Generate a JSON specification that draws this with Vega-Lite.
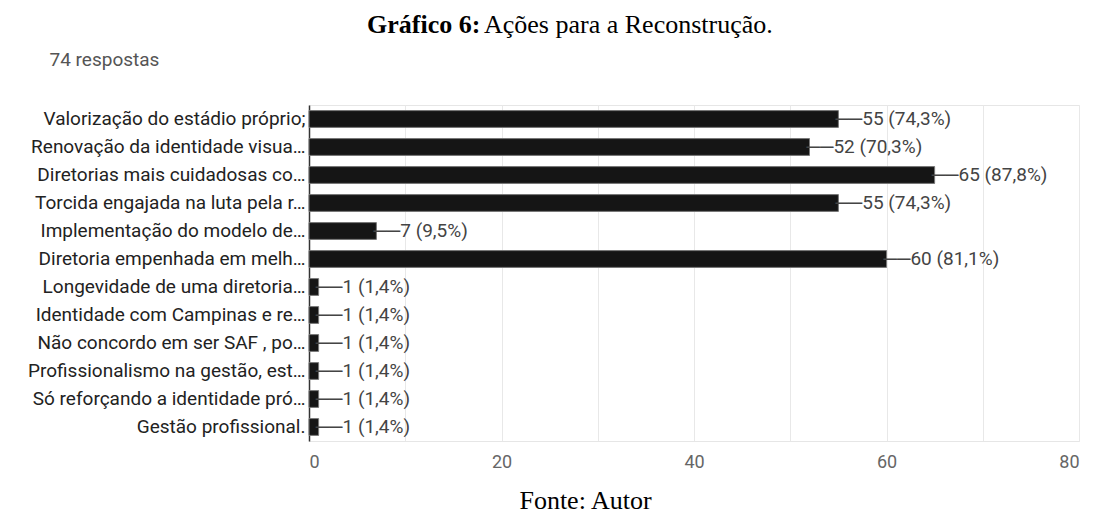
{
  "$schema": "https://vega.github.io/schema/vega-lite/v6.json",
  "width": 770,
  "height": 336,
  "autosize": {"type": "none"},
  "padding": {"left": 309, "top": 105, "right": 17, "bottom": 71},
  "background": "white",
  "title": {
    "text": "Gráfico 6:",
    "subtitle": "\u200b\u00a0\u00a0\u00a0\u00a0\u00a0\u00a0\u00a0\u00a0\u00a0\u00a0\u00a0\u00a0\u00a0\u00a0\u00a0\u00a0\u00a0\u00a0Ações para a Reconstrução.",
    "anchor": "start",
    "frame": "group",
    "dx": 58,
    "offset": 12,
    "font": "Liberation Serif",
    "fontSize": 26,
    "fontWeight": "bold",
    "color": "black",
    "subtitleFont": "Liberation Serif",
    "subtitleFontSize": 26,
    "subtitleFontWeight": "normal",
    "subtitleColor": "black",
    "subtitlePadding": -26
  },
  "data": {
    "values": [
      {"acao": "Valorização do estádio próprio;", "ordem": 1, "respostas": 55, "rotulo": "──55 (74,3%)"},
      {"acao": "Renovação da identidade visua…", "ordem": 2, "respostas": 52, "rotulo": "──52 (70,3%)"},
      {"acao": "Diretorias mais cuidadosas co…", "ordem": 3, "respostas": 65, "rotulo": "──65 (87,8%)"},
      {"acao": "Torcida engajada na luta pela r…", "ordem": 4, "respostas": 55, "rotulo": "──55 (74,3%)"},
      {"acao": "Implementação do modelo de…", "ordem": 5, "respostas": 7, "rotulo": "──7 (9,5%)"},
      {"acao": "Diretoria empenhada em melh…", "ordem": 6, "respostas": 60, "rotulo": "──60 (81,1%)"},
      {"acao": "Longevidade de uma diretoria…", "ordem": 7, "respostas": 1, "rotulo": "──1 (1,4%)"},
      {"acao": "Identidade com Campinas e re…", "ordem": 8, "respostas": 1, "rotulo": "──1 (1,4%)"},
      {"acao": "Não concordo em ser SAF , po…", "ordem": 9, "respostas": 1, "rotulo": "──1 (1,4%)"},
      {"acao": "Profissionalismo na gestão, est…", "ordem": 10, "respostas": 1, "rotulo": "──1 (1,4%)"},
      {"acao": "Só reforçando a identidade pró…", "ordem": 11, "respostas": 1, "rotulo": "──1 (1,4%)"},
      {"acao": "Gestão profissional.", "ordem": 12, "respostas": 1, "rotulo": "──1 (1,4%)"}
    ]
  },
  "encoding": {
    "y": {
      "field": "acao",
      "type": "nominal",
      "sort": {"field": "ordem", "order": "ascending"},
      "scale": {"paddingInner": 0.4, "paddingOuter": 0.2},
      "axis": {
        "title": "74 respostas",
        "titleAngle": 0,
        "titleAlign": "left",
        "titleBaseline": "middle",
        "titleX": -260,
        "titleY": -46,
        "titleFont": "Roboto",
        "titleFontSize": 19,
        "titleFontWeight": "normal",
        "titleColor": "#555555",
        "labelFont": "Roboto",
        "labelFontSize": 19,
        "labelColor": "#222222",
        "labelPadding": 4,
        "labelLimit": 320,
        "ticks": false,
        "domainColor": "#333333",
        "domainWidth": 1.5,
        "grid": false
      }
    },
    "x": {
      "field": "respostas",
      "type": "quantitative",
      "scale": {"domain": [0, 80], "nice": false},
      "axis": {
        "values": [0, 10, 20, 30, 40, 50, 60, 70, 80],
        "labelExpr": "datum.value % 20 === 0 ? datum.label : ''",
        "title": "Fonte: Autor",
        "titleFont": "Liberation Serif",
        "titleFontSize": 26,
        "titleFontWeight": "normal",
        "titleColor": "black",
        "titleX": 276,
        "titleY": 59,
        "titleAlign": "center",
        "titleBaseline": "middle",
        "labelFont": "Roboto",
        "labelFontSize": 18,
        "labelColor": "#666666",
        "labelPadding": 12,
        "ticks": false,
        "domainColor": "#e6e6e6",
        "gridColor": "#e8e8e8",
        "grid": true
      }
    }
  },
  "layer": [
    {
      "mark": {"type": "bar", "color": "#151515", "stroke": "#777777", "strokeWidth": 1}
    },
    {
      "mark": {"type": "text", "align": "left", "baseline": "middle", "dx": -3, "font": "Roboto", "fontSize": 19, "color": "#444444"},
      "encoding": {"text": {"field": "rotulo"}}
    }
  ],
  "config": {
    "view": {"stroke": "#e6e6e6"}
  }
}
